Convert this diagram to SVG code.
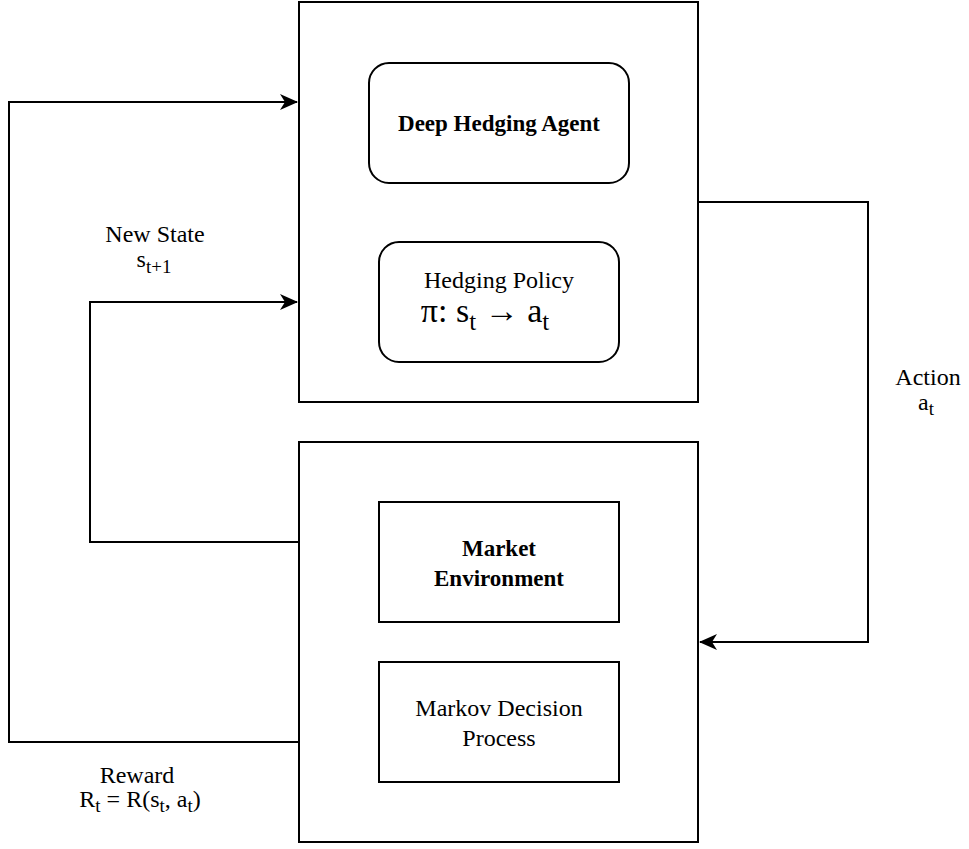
<svg xmlns="http://www.w3.org/2000/svg" width="969" height="849" viewBox="0 0 969 849">
<style>
.box{fill:#fff;stroke:#000;stroke-width:2}
.ln{fill:none;stroke:#000;stroke-width:2}
text{font-family:"Liberation Serif","Times New Roman",serif;fill:#000;text-anchor:middle}
.b{font-weight:bold;font-size:23px}
.r{font-size:24px}
</style>
<defs>
<marker id="ar" viewBox="0 0 18 16" refX="17" refY="8" markerWidth="18" markerHeight="16" markerUnits="userSpaceOnUse" orient="auto">
<path d="M0,0 L18,8 L0,16 L5,8 Z" fill="#000"/>
</marker>
</defs>
<rect width="969" height="849" fill="#fff"/>
<g id="agent">
<rect class="box" x="299" y="2" width="399" height="400"/>
</g>
<g id="environment">
<rect class="box" x="299" y="442" width="399" height="400"/>
</g>
<g id="deep-hedging-agent">
<rect class="box" x="369" y="63" width="260" height="120" rx="20"/>
<text class="b" x="499" y="131">Deep Hedging Agent</text>
</g>
<g id="hedging-policy">
<rect class="box" x="379" y="242" width="240" height="120" rx="20"/>
<text class="r" x="499" y="288">Hedging Policy</text>
<text x="485" y="322" font-size="34">π: s<tspan font-size="25" dy="8">t</tspan><tspan dy="-8"> → a</tspan><tspan font-size="25" dy="8">t</tspan></text>
</g>
<g id="market-environment">
<rect class="box" x="379" y="502" width="240" height="120"/>
<text class="b" x="499" y="556">Market</text>
<text class="b" x="499" y="586">Environment</text>
</g>
<g id="mdp">
<rect class="box" x="379" y="662" width="240" height="120"/>
<text class="r" x="499" y="716">Markov Decision</text>
<text class="r" x="499" y="746">Process</text>
</g>
<g id="connectors">
<polyline class="ln" points="299,742 9,742 9,102 297,102" marker-end="url(#ar)"/>
<polyline class="ln" points="299,542 90,542 90,302 297,302" marker-end="url(#ar)"/>
<polyline class="ln" points="698,202 868,202 868,642 700,642" marker-end="url(#ar)"/>
</g>
<g id="labels">
<text class="r" x="155" y="242">New State</text>
<text class="r" x="154" y="267">s<tspan font-size="19" dy="6">t+1</tspan></text>
<text class="r" x="928" y="385">Action</text>
<text class="r" x="926" y="410">a<tspan font-size="19" dy="5">t</tspan></text>
<text class="r" x="137" y="783">Reward</text>
<text class="r" x="140" y="807">R<tspan font-size="19" dy="5">t</tspan><tspan dy="-5"> = R(s</tspan><tspan font-size="19" dy="5">t</tspan><tspan dy="-5">, a</tspan><tspan font-size="19" dy="5">t</tspan><tspan dy="-5">)</tspan></text>
</g>
</svg>
